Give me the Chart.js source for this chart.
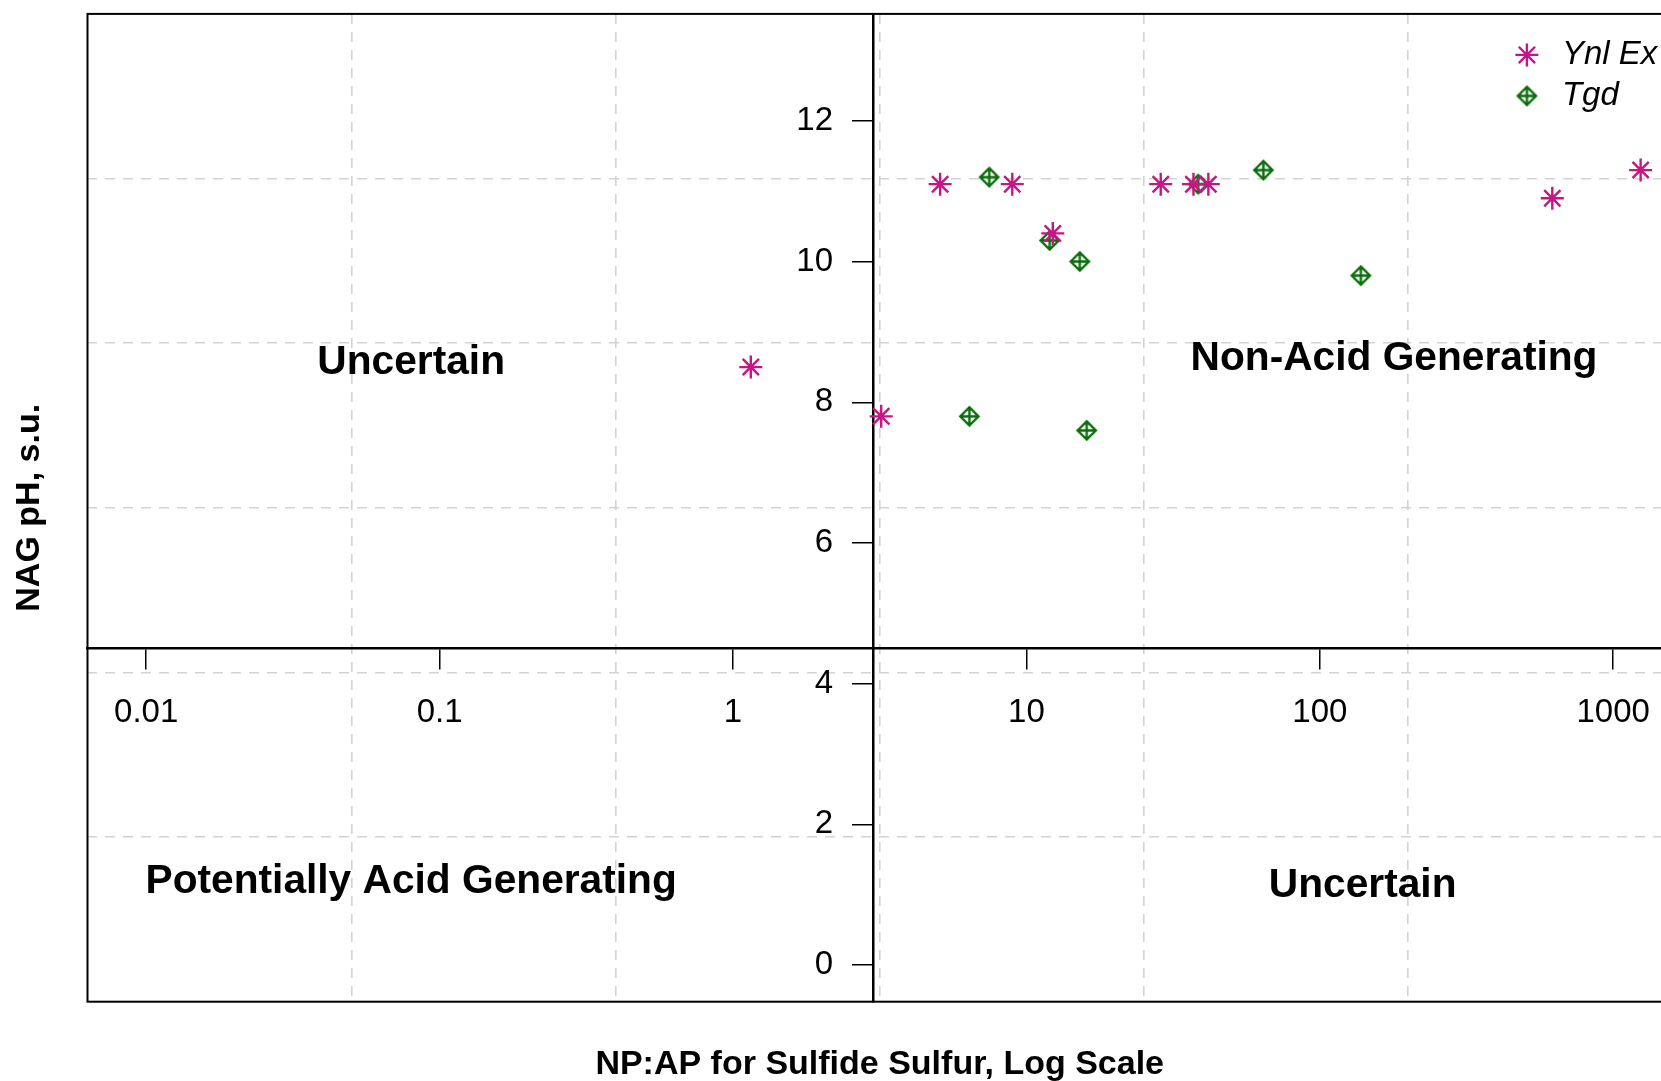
<!DOCTYPE html>
<html>
<head>
<meta charset="utf-8">
<script src="https://cdn.jsdelivr.net/npm/chart.js@4.4.1/dist/chart.umd.min.js"></script>
<style>
  html, body { margin: 0; padding: 0; background: #fff; overflow: hidden; }
  #wrap { width: 1700px; height: 1081px; }
</style>
</head>
<body>
<div id="wrap"><canvas id="nagChart"></canvas></div>
<script>
// sample data (NP:AP ratio vs NAG pH)
const ynlNpap = [1.15, 3.2, 5.08, 8.95, 12.3, 28.7, 37.1, 41.7, 620, 1240];
const ynlPh   = [8.5, 7.8, 11.1, 11.1, 10.4, 11.1, 11.1, 11.1, 10.9, 11.3];
const tgdNpap = [6.39, 7.47, 12.0, 15.2, 16.05, 38.5, 64.2, 138];
const tgdPh   = [7.8, 11.2, 10.3, 10.0, 7.6, 11.1, 11.3, 9.8];

const seriesNames = ['Ynl Ex', 'Tgd'];

// axes
const xTicks = [0.01, 0.1, 1, 10, 100, 1000];
const yTicks = [0, 2, 4, 6, 8, 10, 12];
const xLim = [0.01, 1000];
const yLim = [0, 13];
const xCross = 3;    // NP:AP criterion
const yCross = 4.5;  // NAG pH criterion

// quadrant labels
const regionText = ['Uncertain', 'Non-Acid Generating', 'Potentially Acid Generating', 'Uncertain'];
const regionX = [0.08, 179, 0.08, 140];
const regionY = [8.555, 8.625, 1.185, 1.13];

// R style 4% range extension
const lx0 = Math.log10(xLim[0]), lx1 = Math.log10(xLim[1]);
const lxPad = (lx1 - lx0) * 0.04;
const xMin = Math.pow(10, lx0 - lxPad), xMax = Math.pow(10, lx1 + lxPad);
const yPad = (yLim[1] - yLim[0]) * 0.04;
const yMin = yLim[0] - yPad, yMax = yLim[1] + yPad;

// grid(6, 6): lines split the plot region into 6 cells
const xGrid = [1, 2, 3, 4, 5].map(k => Math.pow(10, (lx0 - lxPad) + k * (lx1 - lx0 + 2 * lxPad) / 6));
const yGrid = [1, 2, 3, 4, 5].map(k => yMin + k * (yMax - yMin) / 6);

const pink = '#c71585';
const green = '#0a6e0a';
const fontFam = '"Liberation Sans", Arial, Helvetica, sans-serif';

function diamondPlus(size, color, lw) {
  const c = document.createElement('canvas');
  c.width = c.height = size;
  const g = c.getContext('2d');
  const m = size / 2, r = m - lw;
  g.strokeStyle = color;
  g.lineWidth = lw;
  g.beginPath();
  g.moveTo(m, m - r); g.lineTo(m + r, m); g.lineTo(m, m + r); g.lineTo(m - r, m); g.closePath();
  g.moveTo(m, m - r); g.lineTo(m, m + r);
  g.moveTo(m - r, m); g.lineTo(m + r, m);
  g.stroke();
  return c;
}
const tgdMarker = diamondPlus(23, green, 2.4);

function toPoints(xs, ys) {
  return xs.map((v, i) => ({ x: v, y: ys[i] }));
}

Chart.defaults.font.family = fontFam;
Chart.defaults.color = '#000';

const noPad = s => { s.paddingLeft = 0; s.paddingRight = 0; s.paddingTop = 0; s.paddingBottom = 0; };

const boxPlugin = {
  id: 'box',
  afterDraw(chart) {
    const a = chart.chartArea, ctx = chart.ctx;
    ctx.save();
    ctx.strokeStyle = '#000';
    ctx.lineWidth = 2;
    ctx.strokeRect(a.left, a.top, a.right - a.left, a.bottom - a.top);
    ctx.restore();
  }
};

// y labels sit left of the tick marks at the crossing axis
const yLabelPlugin = {
  id: 'yLabels',
  beforeDatasetsDraw(chart) {
    const s = chart.scales.y, ctx = chart.ctx;
    const x = chart.scales.x.getPixelForValue(xCross) - s.options.grid.tickLength - 20;
    ctx.save();
    ctx.font = '33px ' + fontFam;
    ctx.fillStyle = '#000';
    ctx.textAlign = 'right';
    ctx.textBaseline = 'middle';
    s.ticks.forEach(t => ctx.fillText(String(t.value), x, s.getPixelForValue(t.value)));
    ctx.restore();
  }
};

const regionPlugin = {
  id: 'regions',
  afterDraw(chart) {
    const ctx = chart.ctx, sx = chart.scales.x, sy = chart.scales.y;
    ctx.save();
    ctx.font = 'bold 40.7px ' + fontFam;
    ctx.fillStyle = '#000';
    ctx.textAlign = 'center';
    ctx.textBaseline = 'middle';
    regionText.forEach((t, i) => {
      ctx.fillText(t, sx.getPixelForValue(regionX[i]), sy.getPixelForValue(regionY[i]));
    });
    ctx.restore();
  }
};

const legendPlugin = {
  id: 'rLegend',
  afterDraw(chart) {
    const ctx = chart.ctx, a = chart.chartArea;
    ctx.save();
    ctx.font = 'italic 33px ' + fontFam;
    ctx.textAlign = 'left';
    ctx.textBaseline = 'middle';
    chart.data.datasets.forEach((ds, i) => {
      const y = a.top + 41 + i * 41;
      const mx = a.right - 145;
      ctx.strokeStyle = ds.borderColor;
      ctx.fillStyle = ds.borderColor;
      ctx.lineWidth = ds.borderWidth;
      Chart.helpers.drawPoint(ctx, { pointStyle: ds.pointStyle, radius: ds.pointRadius, borderWidth: ds.borderWidth, rotation: 0 }, mx, y);
      ctx.fillStyle = '#000';
      ctx.fillText(ds.label, mx + 35, y);
    });
    ctx.restore();
  }
};

new Chart(document.getElementById('nagChart'), {
  type: 'scatter',
  data: {
    datasets: [
      {
        label: seriesNames[0],
        data: toPoints(ynlNpap, ynlPh),
        pointStyle: 'star',
        pointRadius: 11.5,
        borderColor: pink,
        backgroundColor: pink,
        borderWidth: 2.4
      },
      {
        label: seriesNames[1],
        data: toPoints(tgdNpap, tgdPh),
        pointStyle: tgdMarker,
        pointRadius: 11.5,
        borderColor: green,
        backgroundColor: green,
        borderWidth: 2.4
      }
    ]
  },
  options: {
    responsive: true,
    maintainAspectRatio: false,
    animation: false,
    events: [],
    layout: { padding: { left: 4.8, top: 10.6, right: 28.1, bottom: 0 } },
    plugins: { legend: { display: false }, tooltip: { enabled: false } },
    scales: {
      x: {
        type: 'logarithmic',
        min: xMin, max: xMax,
        position: { y: yCross },
        afterBuildTicks: s => { s.ticks = xTicks.map(v => ({ value: v })); },
        afterFit: noPad,
        ticks: { callback: v => String(v), font: { size: 33 }, padding: 25, maxRotation: 0, autoSkip: false },
        grid: { drawOnChartArea: false, tickLength: 20, color: '#000', lineWidth: 1.5 },
        border: { color: '#000', width: 2.5 }
      },
      y: {
        type: 'linear',
        min: yMin, max: yMax,
        position: { x: xCross },
        afterBuildTicks: s => { s.ticks = yTicks.map(v => ({ value: v })); },
        afterFit: noPad,
        ticks: { display: false },
        grid: { drawOnChartArea: false, tickLength: 20, color: '#000', lineWidth: 1.5 },
        border: { color: '#000', width: 2.5 }
      },
      gx: {
        type: 'logarithmic',
        min: xMin, max: xMax,
        position: 'bottom',
        afterBuildTicks: s => { s.ticks = xGrid.map(v => ({ value: v })); },
        ticks: { display: false },
        grid: { drawTicks: false, color: '#d3d3d3', lineWidth: 1.6 },
        border: { display: false, dash: [10, 8] },
        title: { display: true, text: 'NP:AP for Sulfide Sulfur, Log Scale', font: { size: 34, weight: 'bold', lineHeight: 0.95 }, padding: { top: 47, bottom: 0 } }
      },
      gy: {
        type: 'linear',
        min: yMin, max: yMax,
        position: 'left',
        afterBuildTicks: s => { s.ticks = yGrid.map(v => ({ value: v })); },
        ticks: { display: false },
        grid: { drawTicks: false, color: '#d3d3d3', lineWidth: 1.6 },
        border: { display: false, dash: [10, 8] },
        title: { display: true, text: 'NAG pH, s.u.', font: { size: 34, weight: 'bold' }, padding: { top: 4, bottom: 37.9 } }
      }
    }
  },
  plugins: [boxPlugin, yLabelPlugin, regionPlugin, legendPlugin]
});
</script>
</body>
</html>
